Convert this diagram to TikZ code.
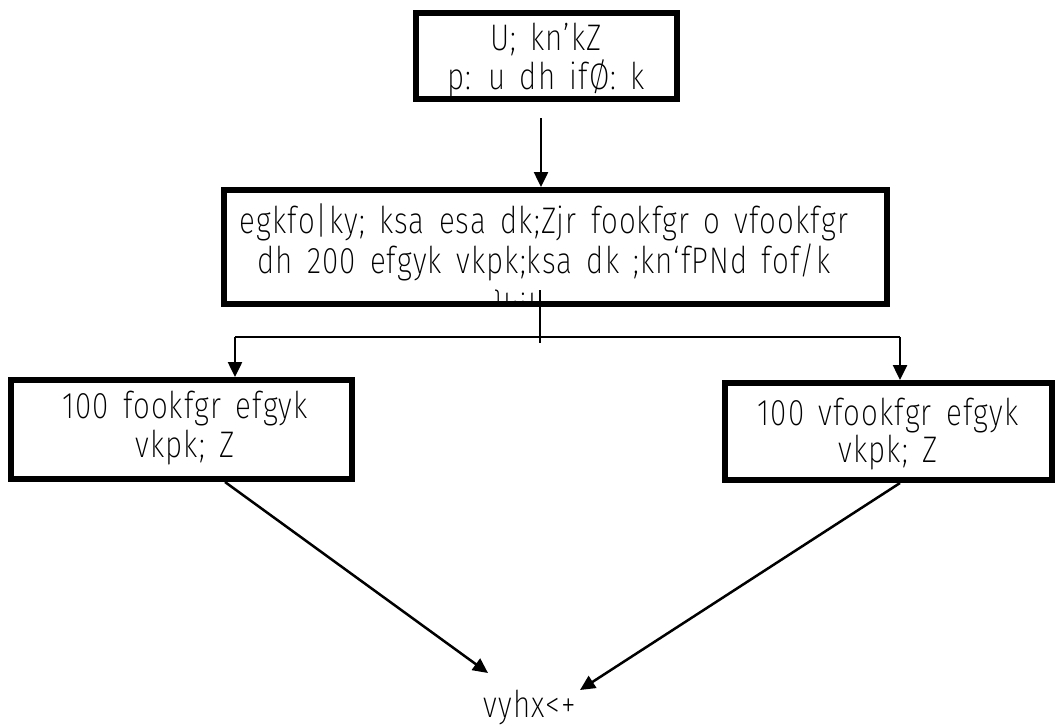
\documentclass[tikz,border=0pt]{standalone}
\usepackage{fontspec}
\setmainfont{Fira Sans}[UprightFont=* ExtraLight, FakeStretch=0.8, LetterSpace=3, WordSpace=1.5]
\usetikzlibrary{arrows.meta}
\begin{document}
\begin{tikzpicture}[x=1pt,y=-1pt,
  box/.style={draw,line width=6pt,inner sep=0pt},
  txt/.style={inner sep=0pt,anchor=base,font=\fontsize{37}{40}\selectfont},
  conn/.style={line width=2.5pt},
  arr/.style={conn,-{Triangle[length=15pt,width=14pt]}}]
\useasboundingbox (0,0) rectangle (1063,726);
% boxes
\node[box,minimum width=261pt,minimum height=86pt] (topbox) at (546.5,56) {};
\node[box,minimum width=663pt,minimum height=114pt] (midbox) at (555.5,247) {};
\node[box,minimum width=341pt,minimum height=99pt] (leftbox) at (181.5,429.5) {};
\node[box,minimum width=327pt,minimum height=97pt] (rightbox) at (888.5,431.5) {};
% texts
\node[txt] (top1) at (546,50) {U; kn'kZ};
\node[txt] (top2) at (546,89) {p: u dh ifØ: k};
\begin{scope}
\clip (227,193) rectangle (884,300);
\node[txt] (mid1) at (544,233) {egkfo|ky; ksa esa dk;Zjr fookfgr o vfookfgr};
\node[txt] (mid2) at (544,273) {dh 200 efgyk vkpk;ksa dk ;kn`fPNd fof/k};
\node[txt,anchor=base west] (mid3) at (493,320) {\}kjk};
\end{scope}
\node[txt] (left1) at (185,418) {100 fookfgr efgyk};
\node[txt] (left2) at (185,457) {vkpk; Z};
\node[txt] (right1) at (888,425) {100 vfookfgr efgyk};
\node[txt] (right2) at (888,462) {vkpk; Z};
\node[txt] (goal) at (530,717) {vyhx<+};
% connectors
\coordinate (a0) at (541,118);
\draw[arr] (a0) -- (a0 |- midbox.north);
\coordinate (sp) at (540,290);
\coordinate (hy) at (540,343);
\coordinate (hl) at (235,337);
\coordinate (hr) at (900,337);
\draw[conn] (sp) -- (hy);
\draw[conn] (hl) -- (hr);
\draw[arr] (hl) -- (hl |- leftbox.north);
\draw[arr] (hr) -- (hr |- rightbox.north);
\coordinate (gl) at (488,673);
\coordinate (gr) at (580,690);
\draw[arr] ([xshift=43.5pt]leftbox.south) -- (gl);
\draw[arr] ([xshift=11.5pt]rightbox.south) -- (gr);
\end{tikzpicture}
\end{document}
